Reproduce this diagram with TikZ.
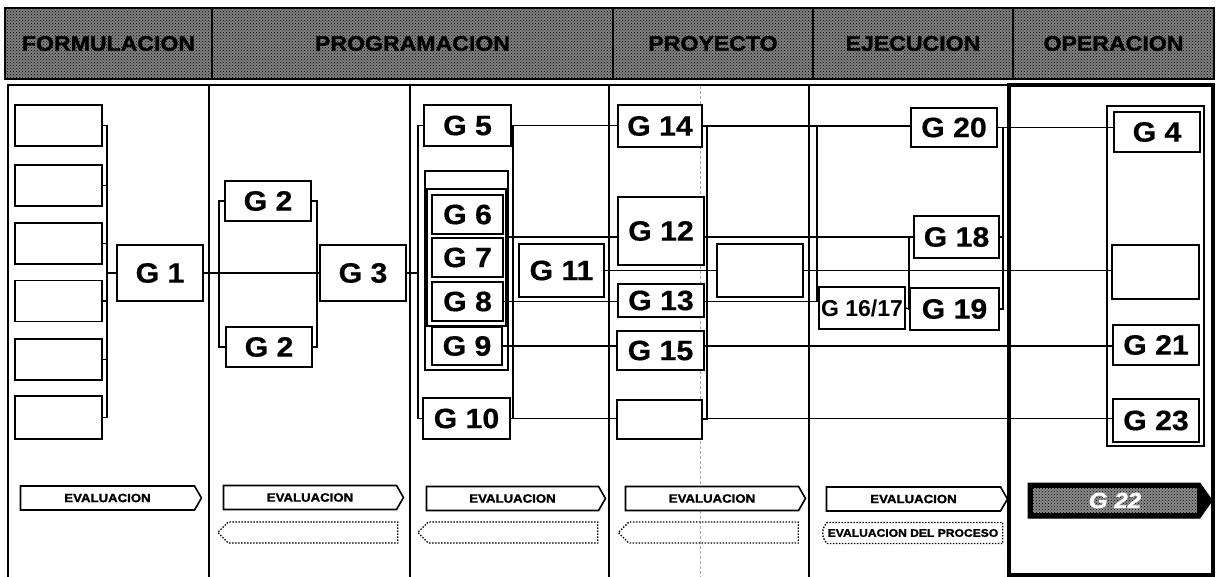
\documentclass[tikz,border=0pt]{standalone}
\usepackage{fontspec}
\setmainfont{Liberation Sans}
\newfontfamily\phasefont{Liberation Sans}[FakeStretch=1.1,FakeBold=1.5]
\newfontfamily\boxfont{Liberation Sans}[FakeStretch=1.08,FakeBold=0.6]
\usepackage{tikz}
\usetikzlibrary{shapes.symbols,shapes.misc,patterns}
\tikzset{
  phase/.style={ rectangle, draw=black, line width=2pt, preaction={fill=black!50},
                 pattern=crosshatch dots, pattern color=black, inner sep=0pt, minimum height=71pt,
                 font=\phasefont\bfseries\fontsize{21}{21}\selectfont },
  gbox/.style ={ rectangle, draw=black, line width=1.9pt, fill=white, inner sep=0pt,
                 minimum width=86pt, minimum height=40pt, font=\boxfont\bfseries\fontsize{28}{28}\selectfont },
  group/.style={ rectangle, draw=black, line width=1.4pt, fill=white, inner sep=0pt },
%
  link/.style={draw=black, line width=1.3pt},
  col/.style={draw=black, line width=1.7pt},
  opframe/.style={draw=black, line width=3.5pt},
  guide/.style={draw=black!35, line width=0.8pt, dash pattern=on 3pt off 2pt},
%
  eval/.style={ signal, signal to=east, signal pointer angle=120, draw=black, line width=1.6pt,
                fill=white, inner sep=0pt, minimum width=181pt, minimum height=24pt,
                font=\phasefont\bfseries\fontsize{12}{12}\selectfont },
  back/.style={ signal, signal to=west, signal pointer angle=90, draw=black, line width=1.4pt,
                dash pattern=on 1.5pt off 1.5pt, inner sep=0pt, minimum width=180pt, minimum height=21pt },
  g22band/.style={ rectangle, preaction={fill=black!45}, pattern=crosshatch dots, pattern color=black,
                   inner sep=0pt, minimum width=164pt, minimum height=25pt, text=white,
                   font=\phasefont\bfseries\itshape\fontsize{22}{22}\selectfont }
}

\begin{document}
\begin{tikzpicture}[x=1pt,y=-1pt]
        \useasboundingbox (0,0) rectangle (1218,577);
        % phases
        \node[phase, minimum width=207pt] (hFor) at (108.5,43.5) {FORMULACION};
        \node[phase, minimum width=401pt] (hPrg) at (412.5,43.5) {PROGRAMACION};
        \node[phase, minimum width=200pt] (hPry) at (713,43.5) {PROYECTO};
        \node[phase, minimum width=200pt] (hEje) at (913,43.5) {EJECUCION};
        \node[phase, minimum width=201pt] (hOpe) at (1113.5,43.5) {OPERACION};
        \draw[guide] (700,86) -- (700,577);
        \draw[col] (8,577) -- (8,85) -- (1009,85);
        \draw[col] (209,85) -- (209,577);
        \draw[col] (410,85) -- (410,577);
        \draw[col] (609,85) -- (609,577);
        \draw[col] (809,85) -- (809,577);
        \draw[opframe] (1009,85) rectangle (1213,575);
        % formulacion
        \node[gbox, minimum width=87pt, minimum height=41pt] (f1) at (58.5,125.5) {};
        \node[gbox, minimum width=87pt, minimum height=41pt] (f2) at (58.5,185.5) {};
        \node[gbox, minimum width=87pt, minimum height=41pt] (f3) at (58.5,243.5) {};
        \node[gbox, minimum width=87pt, minimum height=41pt] (f4) at (58.5,301) {};
        \node[gbox, minimum width=87pt, minimum height=41pt] (f5) at (58.5,359.5) {};
        \node[gbox, minimum width=87pt, minimum height=43pt] (f6) at (58.5,417.5) {};
        \node[gbox, minimum height=56pt] (G1) at (160,273) {G 1};
        % programacion
        \node[gbox] (G2a) at (268,201) {G 2};
        \node[gbox] (G2b) at (269,347) {G 2};
        \node[gbox, minimum height=56pt] (G3) at (363,273) {G 3};
        \node[gbox, minimum width=87pt, minimum height=41pt] (G5) at (467.5,125.5) {G 5};
        \node[group, minimum width=83pt, minimum height=199pt] (grp69) at (466.5,270.5) {};
        \node[group, line width=2.4pt, minimum width=79pt, minimum height=137pt] (grp68) at (466.5,257.5) {};
        \node[gbox, minimum width=71pt, minimum height=39pt] (G6) at (467.5,214.5) {G 6};
        \node[gbox, minimum width=71pt, minimum height=39pt] (G7) at (467.5,257.5) {G 7};
        \node[gbox, minimum width=71pt, minimum height=39pt] (G8) at (467.5,301.5) {G 8};
        \node[gbox, minimum width=70pt, minimum height=38pt] (G9) at (467,346) {G 9};
        \node[gbox, minimum width=87pt, minimum height=41pt] (G10) at (466.5,418.5) {G 10};
        \node[gbox, minimum width=85pt, minimum height=53pt] (G11) at (561.5,270.5) {G 11};
        % proyecto
        \node[gbox, minimum width=84pt, minimum height=42pt] (G14) at (660,126) {G 14};
        \node[gbox, minimum height=68pt] (G12) at (661,231) {G 12};
        \node[gbox, minimum height=33pt] (G13) at (661,300.5) {G 13};
        \node[gbox, minimum width=87pt, minimum height=39pt] (G15) at (660.5,350.5) {G 15};
        \node[gbox, minimum width=85pt, minimum height=39pt] (pB) at (659.5,419.5) {};
        \node[gbox, minimum height=53pt] (pA) at (760,270.5) {};
        % ejecucion
        \node[gbox, minimum height=39pt] (G20) at (954,127.5) {G 20};
        \node[gbox, minimum width=85pt, minimum height=42pt] (G18) at (956.5,237) {G 18};
        \node[gbox, minimum width=89pt, minimum height=42pt] (G19) at (954.5,309) {G 19};
        \node[gbox, minimum height=42pt, font=\bfseries\fontsize{23}{23}\selectfont] (G1617) at (862,308) {G 16/17};
        % operacion
        \node[group, minimum width=97pt, minimum height=340pt] (opgrp) at (1155.5,276) {};
        \node[gbox] (G4) at (1157,132) {G 4};
        \node[gbox, minimum width=87pt, minimum height=54pt] (oA) at (1155.5,272) {};
        \node[gbox] (G21) at (1156,345) {G 21};
        \node[gbox, minimum height=43pt] (G23) at (1156,420.5) {G 23};
        % links
        \coordinate (b1) at (107,273);
        \draw[link] (f1.east) -| (b1) -- (G1.west);
        \draw[link] (f2.east) -| (b1);
        \draw[link] (f3.east) -| (b1);
        \draw[link] (f4.east) -| (b1);
        \draw[link] (f5.east) -| (b1);
        \draw[link] (f6.east) -| (b1);
        \coordinate (b2l) at (219,273);
        \coordinate (b2r) at (317,273);
        \draw[link] (G1.east) -- (G3.west);
        \draw[link] (G2a.west) -| (b2l) |- (G2b.west);
        \draw[link] (G2a.east) -| (b2r) |- (G2b.east);
        \coordinate (b3l) at (418,273);
        \coordinate (b3r) at (513,273);
        \draw[link] (G3.east) -- (b3l);
        \draw[link] (G5.west) -| (b3l) |- (G10.west);
        \draw[link] (G5.east) -| (b3r) |- (G10.east);
        \draw[link] (G5.east) -- (G5.east -| G14.west);
        \draw[link] (grp68.east |- G18.west) -- (G12.west |- G18.west);
        \draw[link] (G11.east) -- (G11.east -| pA.west);
        \draw[link] (G8.east) -- (G8.east -| G13.west);
        \draw[link] (G9.east) -- (G9.east -| G15.west);
        \draw[link] (G10.east) -- (G10.east -| pB.west);
        \coordinate (b4r) at (707,273);
        \draw[link] (G14.east) -| (b4r) |- (pB.east);
        \draw[link] (G14.east) -- (G20.west |- G14.east);
        \draw[link] (G12.east |- G18.west) -- (G18.west);
        \draw[link] (pA.east) -- (oA.west |- pA.east);
        \draw[link] (G13.east |- G8.east) -- (G1617.west |- G8.east);
        \draw[link] (G15.east |- G9.east) -- (G21.west |- G9.east);
        \draw[link] (pB.east |- G10.east) -- (G23.west |- G10.east);
        \coordinate (b5l) at (817,301.5);
        \draw[link] (b5l |- G14.east) -- (b5l) -- (G1617.west |- b5l);
        \coordinate (b5m) at (909,309);
        \draw[link] (G18.west) -| (b5m) -- (G19.west);
        \draw[link] (G1617.east) -- (G19.west);
        \coordinate (b5r) at (1003,220);
        \draw[link] (G20.east) -| (b5r) |- (G19.east);
        \draw[link] (G18.east) -- (G18.east -| b5r);
        \draw[link] (b5r |- G20.east) -- (G4.west |- G20.east);
        % evaluacion
        \node[eval] (ev1) at (107.5,498) {EVALUACION};
        \node[eval, minimum width=180pt] (ev2) at (310,497.5) {EVALUACION};
        \node[eval, minimum width=179pt] (ev3) at (512.5,498.5) {EVALUACION};
        \node[eval, minimum width=180pt] (ev4) at (712,498.5) {EVALUACION};
        \node[eval] (ev5) at (913.5,499) {EVALUACION};
        \node[back] (bk2) at (313,532.5) {};
        \node[back] (bk3) at (513,532.5) {};
        \node[back] (bk4) at (713.5,532.5) {};
        \node[rounded rectangle, rounded rectangle right arc=none, rounded rectangle arc length=90,
              draw=black, line width=1.4pt, dash pattern=on 1.5pt off 1.5pt, inner sep=0pt,
              minimum width=180pt, minimum height=21pt,
              font=\phasefont\bfseries\fontsize{11}{11}\selectfont] (bk5) at (913,533) {EVALUACION DEL PROCESO};
        \node[signal, signal to=east, signal pointer angle=110, draw=black, fill=black, line width=1pt,
              inner sep=0pt, minimum width=184pt, minimum height=35pt] (G22) at (1114,500.5) {};
        \node[g22band] (G22t) at (1115,500.5) {G 22};
      \end{tikzpicture}
\end{document}
